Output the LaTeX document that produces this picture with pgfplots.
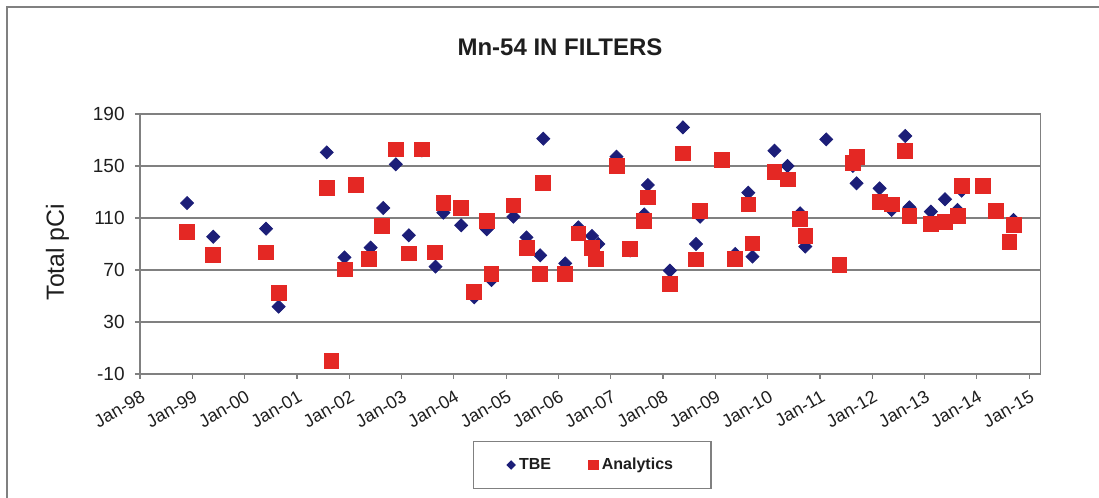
\documentclass[border=0pt]{standalone}
\usepackage{fontspec}
\setmainfont{Liberation Sans}
\usepackage{pgfplots}
\pgfplotsset{compat=1.18}

\definecolor{tbeblue}{RGB}{28,30,120}
\definecolor{anared}{RGB}{228,40,36}
\definecolor{gridgray}{RGB}{128,128,128}
\definecolor{txt}{RGB}{30,30,30}

\begin{document}
\begin{tikzpicture}
\useasboundingbox (-70pt,-62pt) rectangle (479.5pt,187pt);
\draw[gridgray, line width=0.8pt] (-66.5pt,-62pt) -- (-66.5pt,183.5pt) -- (479.5pt,183.5pt);
\node[font=\fontsize{12}{14}\selectfont\bfseries, text=txt] at (210pt,163.5pt) {Mn-54 IN FILTERS};
\begin{axis}[
    at={(0pt,0pt)}, anchor=south west,
    scale only axis,
    width=450.35pt, height=130pt,
    xmin=0, xmax=17.22,
    ymin=-10, ymax=190,
    xtick={0,1,...,17},
    xticklabels={Jan-98,Jan-99,Jan-00,Jan-01,Jan-02,Jan-03,Jan-04,Jan-05,Jan-06,Jan-07,Jan-08,Jan-09,Jan-10,Jan-11,Jan-12,Jan-13,Jan-14,Jan-15},
    ytick={-10,30,70,110,150,190},
    tick align=outside,
    major tick length=2.5pt,
    xtick pos=bottom, ytick pos=left,
    axis line style={gridgray, line width=0.6pt},
    tick style={gridgray, line width=0.6pt},
    ymajorgrids=true,
    grid style={gridgray, line width=0.6pt},
    ticklabel style={font=\fontsize{9.5}{11}\selectfont, text=txt},
    /pgf/number format/assume math mode=true,
    xticklabel style={font=\fontsize{9}{11}\selectfont, rotate=30, anchor=north east, inner sep=0.5pt, yshift=-4pt, xshift=-2pt},
    yticklabel style={inner sep=1pt, xshift=-4pt},
    ylabel={Total pCi},
    ylabel style={at={(axis description cs:-0.0916,0.469)}, anchor=center, font=\fontsize{12.4}{14}\selectfont, text=txt},
    legend columns=2,
    legend style={at={(0.502,-0.35)}, anchor=center, draw=gridgray, line width=0.6pt,
        font=\fontsize{8}{10}\selectfont\bfseries, text=txt,
        inner xsep=17pt, inner ysep=6pt,
        /tikz/every even column/.append style={column sep=17pt}},
    legend image code/.code={\draw[#1, every mark/.append style={scale=0.6}] plot coordinates {(0.06cm,0cm)};},
]
\addplot[only marks, mark=square*, mark size=2.3pt, color=tbeblue, mark options={rotate=45}]
    coordinates {
    (0.90,121.5)(1.40,95.6)(2.41,101.8)(2.65,41.8)(3.57,160.5)(3.91,79.7)
    (4.41,87.2)(4.65,117.7)(4.89,151.3)(5.14,96.7)(5.39,162)(5.65,72.6)
    (5.80,114.1)(6.14,104.4)(6.39,49)(6.63,101.3)(6.72,62.3)(7.14,111)
    (7.39,95.1)(7.65,81.3)(7.71,171)(8.13,75.1)(8.38,102.8)(8.64,96.2)
    (8.76,90)(9.11,157.2)(9.37,85)(9.64,112.8)(9.71,135.4)(10.13,69.5)
    (10.38,179.7)(10.63,90)(10.71,111)(11.12,154)(11.38,82.3)(11.63,129.5)
    (11.71,80.3)(12.13,161.8)(12.38,150)(12.62,113.6)(12.72,88)(13.12,170.5)
    (13.37,74)(13.63,150)(13.70,136.7)(14.14,132.8)(14.37,116.2)(14.63,173.1)
    (14.71,118.2)(15.12,114.9)(15.39,124.4)(15.63,116.2)(15.71,131)(16.12,134)
    (16.37,115)(16.70,108.5)
    };
\addlegendentry{TBE}
\addplot[only marks, mark=square*, mark size=3.7pt, color=anared]
    coordinates {
    (0.90,99.2)(1.40,81.8)(2.41,83.6)(2.65,52.1)(3.57,133.3)(3.66,0.3)
    (3.91,70.5)(4.13,135.4)(4.38,78.5)(4.63,103.8)(4.89,162.8)(5.14,82.8)
    (5.39,162.8)(5.64,83.6)(5.80,121.8)(6.14,118)(6.39,53.1)(6.63,107.9)
    (6.72,66.7)(7.14,119.7)(7.39,86.9)(7.65,66.7)(7.71,136.7)(8.13,66.7)
    (8.38,98.2)(8.64,86.7)(8.71,78.7)(9.11,150.3)(9.37,86.2)(9.64,107.9)
    (9.71,125.9)(10.13,59.2)(10.38,159.7)(10.63,78.2)(10.71,115.4)(11.12,154.6)
    (11.38,78.5)(11.63,120.5)(11.71,90.5)(12.13,145.6)(12.38,139.7)(12.62,109.5)
    (12.72,96.2)(13.37,73.8)(13.63,152.1)(13.70,156.7)(14.14,122.6)(14.37,120.5)
    (14.63,161.8)(14.71,111.8)(15.12,105.4)(15.39,107.2)(15.63,111.5)(15.71,134.6)
    (16.12,134.6)(16.37,115.4)(16.62,91.8)(16.70,104.6)
    };
\addlegendentry{Analytics}
\end{axis}
\end{tikzpicture}
\end{document}
